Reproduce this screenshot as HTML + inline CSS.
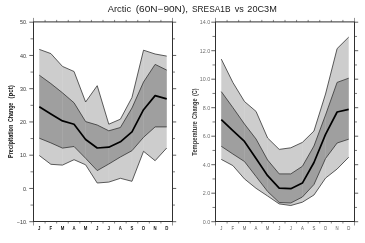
<!DOCTYPE html>
<html><head><meta charset="utf-8"><style>
html,body{margin:0;padding:0;background:#fff;}
svg{display:block;will-change:transform;}
text{font-family:"Liberation Sans",sans-serif;}
.title{font-size:9px;fill:#1a1a1a;}
.tl{font-size:5.4px;fill:#333;}
.tm{font-size:5.4px;fill:#555;}
.tr{fill:#707070;}
.yl.yr{fill:#3a3a3a;}
.b{font-weight:bold;fill:#111;}
.yl{font-size:6.3px;font-weight:bold;fill:#111;}
</style></head><body>
<svg width="365" height="243" viewBox="0 0 365 243">
<rect width="365" height="243" fill="#fff"/>
<polygon points="39.29,49.40 50.88,53.60 62.46,66.40 74.04,71.50 85.62,102.00 97.21,85.70 108.79,124.20 120.38,119.20 131.96,97.50 143.54,50.20 155.12,54.00 166.71,56.10 166.71,148.00 155.12,160.70 143.54,151.30 131.96,181.30 120.38,178.30 108.79,182.10 97.21,183.00 85.62,164.80 74.04,159.70 62.46,165.10 50.88,164.30 39.29,155.50" fill="#cdcdcd"/>
<polygon points="39.29,75.20 50.88,83.60 62.46,92.80 74.04,102.80 85.62,121.60 97.21,125.00 108.79,130.80 120.38,127.50 131.96,108.00 143.54,82.00 155.12,64.40 166.71,70.10 166.71,126.90 155.12,126.90 143.54,137.30 131.96,150.70 120.38,157.00 108.79,164.00 97.21,170.60 85.62,158.30 74.04,146.50 62.46,148.10 50.88,142.90 39.29,138.20" fill="#9f9f9f"/>
<line x1="62.46" y1="66.40" x2="62.46" y2="165.10" stroke="#fff" stroke-opacity="0.13" stroke-width="0.7"/>
<line x1="85.62" y1="102.00" x2="85.62" y2="164.80" stroke="#fff" stroke-opacity="0.13" stroke-width="0.7"/>
<line x1="108.79" y1="124.20" x2="108.79" y2="182.10" stroke="#fff" stroke-opacity="0.13" stroke-width="0.7"/>
<line x1="131.96" y1="97.50" x2="131.96" y2="181.30" stroke="#fff" stroke-opacity="0.13" stroke-width="0.7"/>
<line x1="143.54" y1="50.20" x2="143.54" y2="151.30" stroke="#fff" stroke-opacity="0.13" stroke-width="0.7"/>
<polyline points="39.29,49.40 50.88,53.60 62.46,66.40 74.04,71.50 85.62,102.00 97.21,85.70 108.79,124.20 120.38,119.20 131.96,97.50 143.54,50.20 155.12,54.00 166.71,56.10" fill="none" stroke="#333333" stroke-width="0.8"/>
<polyline points="39.29,155.50 50.88,164.30 62.46,165.10 74.04,159.70 85.62,164.80 97.21,183.00 108.79,182.10 120.38,178.30 131.96,181.30 143.54,151.30 155.12,160.70 166.71,148.00" fill="none" stroke="#333333" stroke-width="0.8"/>
<polyline points="39.29,75.20 50.88,83.60 62.46,92.80 74.04,102.80 85.62,121.60 97.21,125.00 108.79,130.80 120.38,127.50 131.96,108.00 143.54,82.00 155.12,64.40 166.71,70.10" fill="none" stroke="#333333" stroke-width="0.8"/>
<polyline points="39.29,138.20 50.88,142.90 62.46,148.10 74.04,146.50 85.62,158.30 97.21,170.60 108.79,164.00 120.38,157.00 131.96,150.70 143.54,137.30 155.12,126.90 166.71,126.90" fill="none" stroke="#333333" stroke-width="0.8"/>
<polyline points="39.29,106.80 50.88,114.00 62.46,120.90 74.04,124.30 85.62,139.50 97.21,148.00 108.79,147.20 120.38,141.80 131.96,131.80 143.54,109.70 155.12,95.60 166.71,98.90" fill="none" stroke="#000" stroke-width="1.7" stroke-linejoin="round"/>
<line x1="29.30" y1="221.70" x2="33.50" y2="221.70" stroke="#444" stroke-width="0.85"/>
<line x1="172.50" y1="221.70" x2="176.20" y2="221.70" stroke="#444" stroke-width="0.85"/>
<line x1="30.50" y1="205.07" x2="33.50" y2="205.07" stroke="#666" stroke-width="0.85"/>
<line x1="172.50" y1="205.07" x2="175.00" y2="205.07" stroke="#666" stroke-width="0.85"/>
<line x1="29.30" y1="188.45" x2="33.50" y2="188.45" stroke="#444" stroke-width="0.85"/>
<line x1="172.50" y1="188.45" x2="176.20" y2="188.45" stroke="#444" stroke-width="0.85"/>
<line x1="30.50" y1="171.82" x2="33.50" y2="171.82" stroke="#666" stroke-width="0.85"/>
<line x1="172.50" y1="171.82" x2="175.00" y2="171.82" stroke="#666" stroke-width="0.85"/>
<line x1="29.30" y1="155.20" x2="33.50" y2="155.20" stroke="#444" stroke-width="0.85"/>
<line x1="172.50" y1="155.20" x2="176.20" y2="155.20" stroke="#444" stroke-width="0.85"/>
<line x1="30.50" y1="138.57" x2="33.50" y2="138.57" stroke="#666" stroke-width="0.85"/>
<line x1="172.50" y1="138.57" x2="175.00" y2="138.57" stroke="#666" stroke-width="0.85"/>
<line x1="29.30" y1="121.95" x2="33.50" y2="121.95" stroke="#444" stroke-width="0.85"/>
<line x1="172.50" y1="121.95" x2="176.20" y2="121.95" stroke="#444" stroke-width="0.85"/>
<line x1="30.50" y1="105.32" x2="33.50" y2="105.32" stroke="#666" stroke-width="0.85"/>
<line x1="172.50" y1="105.32" x2="175.00" y2="105.32" stroke="#666" stroke-width="0.85"/>
<line x1="29.30" y1="88.70" x2="33.50" y2="88.70" stroke="#444" stroke-width="0.85"/>
<line x1="172.50" y1="88.70" x2="176.20" y2="88.70" stroke="#444" stroke-width="0.85"/>
<line x1="30.50" y1="72.07" x2="33.50" y2="72.07" stroke="#666" stroke-width="0.85"/>
<line x1="172.50" y1="72.07" x2="175.00" y2="72.07" stroke="#666" stroke-width="0.85"/>
<line x1="29.30" y1="55.45" x2="33.50" y2="55.45" stroke="#444" stroke-width="0.85"/>
<line x1="172.50" y1="55.45" x2="176.20" y2="55.45" stroke="#444" stroke-width="0.85"/>
<line x1="30.50" y1="38.82" x2="33.50" y2="38.82" stroke="#666" stroke-width="0.85"/>
<line x1="172.50" y1="38.82" x2="175.00" y2="38.82" stroke="#666" stroke-width="0.85"/>
<line x1="29.30" y1="22.20" x2="33.50" y2="22.20" stroke="#444" stroke-width="0.85"/>
<line x1="172.50" y1="22.20" x2="176.20" y2="22.20" stroke="#444" stroke-width="0.85"/>
<line x1="33.50" y1="221.50" x2="33.50" y2="225.50" stroke="#777" stroke-width="0.8"/>
<line x1="33.50" y1="17.90" x2="33.50" y2="21.90" stroke="#777" stroke-width="0.8"/>
<line x1="45.08" y1="221.50" x2="45.08" y2="223.50" stroke="#666" stroke-width="0.8"/>
<line x1="45.08" y1="19.90" x2="45.08" y2="21.90" stroke="#666" stroke-width="0.8"/>
<line x1="56.67" y1="221.50" x2="56.67" y2="223.50" stroke="#666" stroke-width="0.8"/>
<line x1="56.67" y1="19.90" x2="56.67" y2="21.90" stroke="#666" stroke-width="0.8"/>
<line x1="68.25" y1="221.50" x2="68.25" y2="223.50" stroke="#666" stroke-width="0.8"/>
<line x1="68.25" y1="19.90" x2="68.25" y2="21.90" stroke="#666" stroke-width="0.8"/>
<line x1="79.83" y1="221.50" x2="79.83" y2="223.50" stroke="#666" stroke-width="0.8"/>
<line x1="79.83" y1="19.90" x2="79.83" y2="21.90" stroke="#666" stroke-width="0.8"/>
<line x1="91.42" y1="221.50" x2="91.42" y2="223.50" stroke="#666" stroke-width="0.8"/>
<line x1="91.42" y1="19.90" x2="91.42" y2="21.90" stroke="#666" stroke-width="0.8"/>
<line x1="103.00" y1="221.50" x2="103.00" y2="223.50" stroke="#666" stroke-width="0.8"/>
<line x1="103.00" y1="19.90" x2="103.00" y2="21.90" stroke="#666" stroke-width="0.8"/>
<line x1="114.58" y1="221.50" x2="114.58" y2="223.50" stroke="#666" stroke-width="0.8"/>
<line x1="114.58" y1="19.90" x2="114.58" y2="21.90" stroke="#666" stroke-width="0.8"/>
<line x1="126.17" y1="221.50" x2="126.17" y2="223.50" stroke="#666" stroke-width="0.8"/>
<line x1="126.17" y1="19.90" x2="126.17" y2="21.90" stroke="#666" stroke-width="0.8"/>
<line x1="137.75" y1="221.50" x2="137.75" y2="223.50" stroke="#666" stroke-width="0.8"/>
<line x1="137.75" y1="19.90" x2="137.75" y2="21.90" stroke="#666" stroke-width="0.8"/>
<line x1="149.33" y1="221.50" x2="149.33" y2="223.50" stroke="#666" stroke-width="0.8"/>
<line x1="149.33" y1="19.90" x2="149.33" y2="21.90" stroke="#666" stroke-width="0.8"/>
<line x1="160.92" y1="221.50" x2="160.92" y2="223.50" stroke="#666" stroke-width="0.8"/>
<line x1="160.92" y1="19.90" x2="160.92" y2="21.90" stroke="#666" stroke-width="0.8"/>
<line x1="172.50" y1="221.50" x2="172.50" y2="225.50" stroke="#777" stroke-width="0.8"/>
<line x1="172.50" y1="17.90" x2="172.50" y2="21.90" stroke="#777" stroke-width="0.8"/>
<rect x="33.50" y="21.90" width="139.00" height="199.60" fill="none" stroke="#303030" stroke-width="1"/>
<text x="27.50" y="223.90" text-anchor="end" class="tl">−10.</text>
<text x="27.50" y="190.65" text-anchor="end" class="tl">0.</text>
<text x="27.50" y="157.40" text-anchor="end" class="tl">10.</text>
<text x="27.50" y="124.15" text-anchor="end" class="tl">20.</text>
<text x="27.50" y="90.90" text-anchor="end" class="tl">30.</text>
<text x="27.50" y="57.65" text-anchor="end" class="tl">40.</text>
<text x="27.50" y="24.40" text-anchor="end" class="tl">50.</text>
<text transform="translate(39.29,230) scale(0.8,1)" text-anchor="middle" class="tm b">J</text>
<text transform="translate(50.88,230) scale(0.8,1)" text-anchor="middle" class="tm b">F</text>
<text transform="translate(62.46,230) scale(0.8,1)" text-anchor="middle" class="tm b">M</text>
<text transform="translate(74.04,230) scale(0.8,1)" text-anchor="middle" class="tm b">A</text>
<text transform="translate(85.62,230) scale(0.8,1)" text-anchor="middle" class="tm b">M</text>
<text transform="translate(97.21,230) scale(0.8,1)" text-anchor="middle" class="tm b">J</text>
<text transform="translate(108.79,230) scale(0.8,1)" text-anchor="middle" class="tm b">J</text>
<text transform="translate(120.38,230) scale(0.8,1)" text-anchor="middle" class="tm b">A</text>
<text transform="translate(131.96,230) scale(0.8,1)" text-anchor="middle" class="tm b">S</text>
<text transform="translate(143.54,230) scale(0.8,1)" text-anchor="middle" class="tm b">O</text>
<text transform="translate(155.12,230) scale(0.8,1)" text-anchor="middle" class="tm b">N</text>
<text transform="translate(166.71,230) scale(0.8,1)" text-anchor="middle" class="tm b">D</text>
<polygon points="221.29,59.10 232.88,82.50 244.46,101.50 256.04,111.40 267.62,138.00 279.21,149.40 290.79,147.80 302.38,142.40 313.96,131.00 325.54,94.00 337.12,48.60 348.71,37.10 348.71,157.20 337.12,169.00 325.54,178.10 313.96,195.00 302.38,202.20 290.79,205.50 279.21,203.90 267.62,196.00 256.04,188.30 244.46,178.90 232.88,165.60 221.29,159.40" fill="#cdcdcd"/>
<polygon points="221.29,91.60 232.88,107.60 244.46,124.00 256.04,139.00 267.62,160.00 279.21,173.90 290.79,173.90 302.38,166.30 313.96,146.00 325.54,115.00 337.12,82.40 348.71,78.20 348.71,139.20 337.12,143.00 325.54,158.50 313.96,184.50 302.38,197.00 290.79,203.00 279.21,202.50 267.62,191.50 256.04,176.50 244.46,161.50 232.88,154.00 221.29,146.30" fill="#9f9f9f"/>
<line x1="244.46" y1="101.50" x2="244.46" y2="178.90" stroke="#fff" stroke-opacity="0.13" stroke-width="0.7"/>
<line x1="267.62" y1="138.00" x2="267.62" y2="196.00" stroke="#fff" stroke-opacity="0.13" stroke-width="0.7"/>
<line x1="302.38" y1="142.40" x2="302.38" y2="202.20" stroke="#fff" stroke-opacity="0.13" stroke-width="0.7"/>
<line x1="325.54" y1="94.00" x2="325.54" y2="178.10" stroke="#fff" stroke-opacity="0.13" stroke-width="0.7"/>
<polyline points="221.29,59.10 232.88,82.50 244.46,101.50 256.04,111.40 267.62,138.00 279.21,149.40 290.79,147.80 302.38,142.40 313.96,131.00 325.54,94.00 337.12,48.60 348.71,37.10" fill="none" stroke="#333333" stroke-width="0.8"/>
<polyline points="221.29,159.40 232.88,165.60 244.46,178.90 256.04,188.30 267.62,196.00 279.21,203.90 290.79,205.50 302.38,202.20 313.96,195.00 325.54,178.10 337.12,169.00 348.71,157.20" fill="none" stroke="#333333" stroke-width="0.8"/>
<polyline points="221.29,91.60 232.88,107.60 244.46,124.00 256.04,139.00 267.62,160.00 279.21,173.90 290.79,173.90 302.38,166.30 313.96,146.00 325.54,115.00 337.12,82.40 348.71,78.20" fill="none" stroke="#333333" stroke-width="0.8"/>
<polyline points="221.29,146.30 232.88,154.00 244.46,161.50 256.04,176.50 267.62,191.50 279.21,202.50 290.79,203.00 302.38,197.00 313.96,184.50 325.54,158.50 337.12,143.00 348.71,139.20" fill="none" stroke="#333333" stroke-width="0.8"/>
<polyline points="221.29,119.60 232.88,130.70 244.46,141.40 256.04,158.50 267.62,175.70 279.21,188.10 290.79,188.70 302.38,183.10 313.96,162.50 325.54,134.40 337.12,112.00 348.71,109.40" fill="none" stroke="#000" stroke-width="1.7" stroke-linejoin="round"/>
<line x1="211.30" y1="221.70" x2="215.50" y2="221.70" stroke="#444" stroke-width="0.85"/>
<line x1="354.50" y1="221.70" x2="358.20" y2="221.70" stroke="#444" stroke-width="0.85"/>
<line x1="212.50" y1="207.45" x2="215.50" y2="207.45" stroke="#666" stroke-width="0.85"/>
<line x1="354.50" y1="207.45" x2="357.00" y2="207.45" stroke="#666" stroke-width="0.85"/>
<line x1="211.30" y1="193.20" x2="215.50" y2="193.20" stroke="#444" stroke-width="0.85"/>
<line x1="354.50" y1="193.20" x2="358.20" y2="193.20" stroke="#444" stroke-width="0.85"/>
<line x1="212.50" y1="178.95" x2="215.50" y2="178.95" stroke="#666" stroke-width="0.85"/>
<line x1="354.50" y1="178.95" x2="357.00" y2="178.95" stroke="#666" stroke-width="0.85"/>
<line x1="211.30" y1="164.70" x2="215.50" y2="164.70" stroke="#444" stroke-width="0.85"/>
<line x1="354.50" y1="164.70" x2="358.20" y2="164.70" stroke="#444" stroke-width="0.85"/>
<line x1="212.50" y1="150.45" x2="215.50" y2="150.45" stroke="#666" stroke-width="0.85"/>
<line x1="354.50" y1="150.45" x2="357.00" y2="150.45" stroke="#666" stroke-width="0.85"/>
<line x1="211.30" y1="136.20" x2="215.50" y2="136.20" stroke="#444" stroke-width="0.85"/>
<line x1="354.50" y1="136.20" x2="358.20" y2="136.20" stroke="#444" stroke-width="0.85"/>
<line x1="212.50" y1="121.95" x2="215.50" y2="121.95" stroke="#666" stroke-width="0.85"/>
<line x1="354.50" y1="121.95" x2="357.00" y2="121.95" stroke="#666" stroke-width="0.85"/>
<line x1="211.30" y1="107.70" x2="215.50" y2="107.70" stroke="#444" stroke-width="0.85"/>
<line x1="354.50" y1="107.70" x2="358.20" y2="107.70" stroke="#444" stroke-width="0.85"/>
<line x1="212.50" y1="93.45" x2="215.50" y2="93.45" stroke="#666" stroke-width="0.85"/>
<line x1="354.50" y1="93.45" x2="357.00" y2="93.45" stroke="#666" stroke-width="0.85"/>
<line x1="211.30" y1="79.20" x2="215.50" y2="79.20" stroke="#444" stroke-width="0.85"/>
<line x1="354.50" y1="79.20" x2="358.20" y2="79.20" stroke="#444" stroke-width="0.85"/>
<line x1="212.50" y1="64.95" x2="215.50" y2="64.95" stroke="#666" stroke-width="0.85"/>
<line x1="354.50" y1="64.95" x2="357.00" y2="64.95" stroke="#666" stroke-width="0.85"/>
<line x1="211.30" y1="50.70" x2="215.50" y2="50.70" stroke="#444" stroke-width="0.85"/>
<line x1="354.50" y1="50.70" x2="358.20" y2="50.70" stroke="#444" stroke-width="0.85"/>
<line x1="212.50" y1="36.45" x2="215.50" y2="36.45" stroke="#666" stroke-width="0.85"/>
<line x1="354.50" y1="36.45" x2="357.00" y2="36.45" stroke="#666" stroke-width="0.85"/>
<line x1="211.30" y1="22.20" x2="215.50" y2="22.20" stroke="#444" stroke-width="0.85"/>
<line x1="354.50" y1="22.20" x2="358.20" y2="22.20" stroke="#444" stroke-width="0.85"/>
<line x1="215.50" y1="221.50" x2="215.50" y2="225.50" stroke="#777" stroke-width="0.8"/>
<line x1="215.50" y1="17.90" x2="215.50" y2="21.90" stroke="#777" stroke-width="0.8"/>
<line x1="227.08" y1="221.50" x2="227.08" y2="223.50" stroke="#666" stroke-width="0.8"/>
<line x1="227.08" y1="19.90" x2="227.08" y2="21.90" stroke="#666" stroke-width="0.8"/>
<line x1="238.67" y1="221.50" x2="238.67" y2="223.50" stroke="#666" stroke-width="0.8"/>
<line x1="238.67" y1="19.90" x2="238.67" y2="21.90" stroke="#666" stroke-width="0.8"/>
<line x1="250.25" y1="221.50" x2="250.25" y2="223.50" stroke="#666" stroke-width="0.8"/>
<line x1="250.25" y1="19.90" x2="250.25" y2="21.90" stroke="#666" stroke-width="0.8"/>
<line x1="261.83" y1="221.50" x2="261.83" y2="223.50" stroke="#666" stroke-width="0.8"/>
<line x1="261.83" y1="19.90" x2="261.83" y2="21.90" stroke="#666" stroke-width="0.8"/>
<line x1="273.42" y1="221.50" x2="273.42" y2="223.50" stroke="#666" stroke-width="0.8"/>
<line x1="273.42" y1="19.90" x2="273.42" y2="21.90" stroke="#666" stroke-width="0.8"/>
<line x1="285.00" y1="221.50" x2="285.00" y2="223.50" stroke="#666" stroke-width="0.8"/>
<line x1="285.00" y1="19.90" x2="285.00" y2="21.90" stroke="#666" stroke-width="0.8"/>
<line x1="296.58" y1="221.50" x2="296.58" y2="223.50" stroke="#666" stroke-width="0.8"/>
<line x1="296.58" y1="19.90" x2="296.58" y2="21.90" stroke="#666" stroke-width="0.8"/>
<line x1="308.17" y1="221.50" x2="308.17" y2="223.50" stroke="#666" stroke-width="0.8"/>
<line x1="308.17" y1="19.90" x2="308.17" y2="21.90" stroke="#666" stroke-width="0.8"/>
<line x1="319.75" y1="221.50" x2="319.75" y2="223.50" stroke="#666" stroke-width="0.8"/>
<line x1="319.75" y1="19.90" x2="319.75" y2="21.90" stroke="#666" stroke-width="0.8"/>
<line x1="331.33" y1="221.50" x2="331.33" y2="223.50" stroke="#666" stroke-width="0.8"/>
<line x1="331.33" y1="19.90" x2="331.33" y2="21.90" stroke="#666" stroke-width="0.8"/>
<line x1="342.92" y1="221.50" x2="342.92" y2="223.50" stroke="#666" stroke-width="0.8"/>
<line x1="342.92" y1="19.90" x2="342.92" y2="21.90" stroke="#666" stroke-width="0.8"/>
<line x1="354.50" y1="221.50" x2="354.50" y2="225.50" stroke="#777" stroke-width="0.8"/>
<line x1="354.50" y1="17.90" x2="354.50" y2="21.90" stroke="#777" stroke-width="0.8"/>
<rect x="215.50" y="21.90" width="139.00" height="199.60" fill="none" stroke="#303030" stroke-width="1"/>
<text x="210.30" y="223.90" text-anchor="end" class="tl tr">0.0</text>
<text x="210.30" y="195.40" text-anchor="end" class="tl tr">2.0</text>
<text x="210.30" y="166.90" text-anchor="end" class="tl tr">4.0</text>
<text x="210.30" y="138.40" text-anchor="end" class="tl tr">6.0</text>
<text x="210.30" y="109.90" text-anchor="end" class="tl tr">8.0</text>
<text x="210.30" y="81.40" text-anchor="end" class="tl tr">10.0</text>
<text x="210.30" y="52.90" text-anchor="end" class="tl tr">12.0</text>
<text x="210.30" y="24.40" text-anchor="end" class="tl tr">14.0</text>
<text transform="translate(221.29,230) scale(0.8,1)" text-anchor="middle" class="tm">J</text>
<text transform="translate(232.88,230) scale(0.8,1)" text-anchor="middle" class="tm">F</text>
<text transform="translate(244.46,230) scale(0.8,1)" text-anchor="middle" class="tm">M</text>
<text transform="translate(256.04,230) scale(0.8,1)" text-anchor="middle" class="tm">A</text>
<text transform="translate(267.62,230) scale(0.8,1)" text-anchor="middle" class="tm">M</text>
<text transform="translate(279.21,230) scale(0.8,1)" text-anchor="middle" class="tm">J</text>
<text transform="translate(290.79,230) scale(0.8,1)" text-anchor="middle" class="tm">J</text>
<text transform="translate(302.38,230) scale(0.8,1)" text-anchor="middle" class="tm">A</text>
<text transform="translate(313.96,230) scale(0.8,1)" text-anchor="middle" class="tm">S</text>
<text transform="translate(325.54,230) scale(0.8,1)" text-anchor="middle" class="tm">O</text>
<text transform="translate(337.12,230) scale(0.8,1)" text-anchor="middle" class="tm">N</text>
<text transform="translate(348.71,230) scale(0.8,1)" text-anchor="middle" class="tm">D</text>
<text x="107.70" y="12.2" class="title" textLength="23.36" lengthAdjust="spacingAndGlyphs">Arctic</text>
<text x="135.69" y="12.2" class="title" textLength="52.38" lengthAdjust="spacingAndGlyphs">(60N−90N),</text>
<text x="192.04" y="12.2" class="title" textLength="38.44" lengthAdjust="spacingAndGlyphs">SRESA1B</text>
<text x="234.70" y="12.2" class="title" textLength="9.05" lengthAdjust="spacingAndGlyphs">vs</text>
<text x="247.35" y="12.2" class="title" textLength="29.43" lengthAdjust="spacingAndGlyphs">20C3M</text>
<text transform="translate(12.80,157.93) rotate(-90)" class="yl" textLength="33.17" lengthAdjust="spacingAndGlyphs">Precipitation</text>
<text transform="translate(12.80,122.01) rotate(-90)" class="yl" textLength="19.30" lengthAdjust="spacingAndGlyphs">Change</text>
<text transform="translate(12.80,98.44) rotate(-90)" class="yl" textLength="13.10" lengthAdjust="spacingAndGlyphs">(pct)</text>
<text transform="translate(196.90,155.70) rotate(-90)" class="yl yr" textLength="34.37" lengthAdjust="spacingAndGlyphs">Temperature</text>
<text transform="translate(196.90,119.02) rotate(-90)" class="yl yr" textLength="20.52" lengthAdjust="spacingAndGlyphs">Change</text>
<text transform="translate(196.90,96.02) rotate(-90)" class="yl yr" textLength="7.63" lengthAdjust="spacingAndGlyphs">(C)</text>
</svg></body></html>
